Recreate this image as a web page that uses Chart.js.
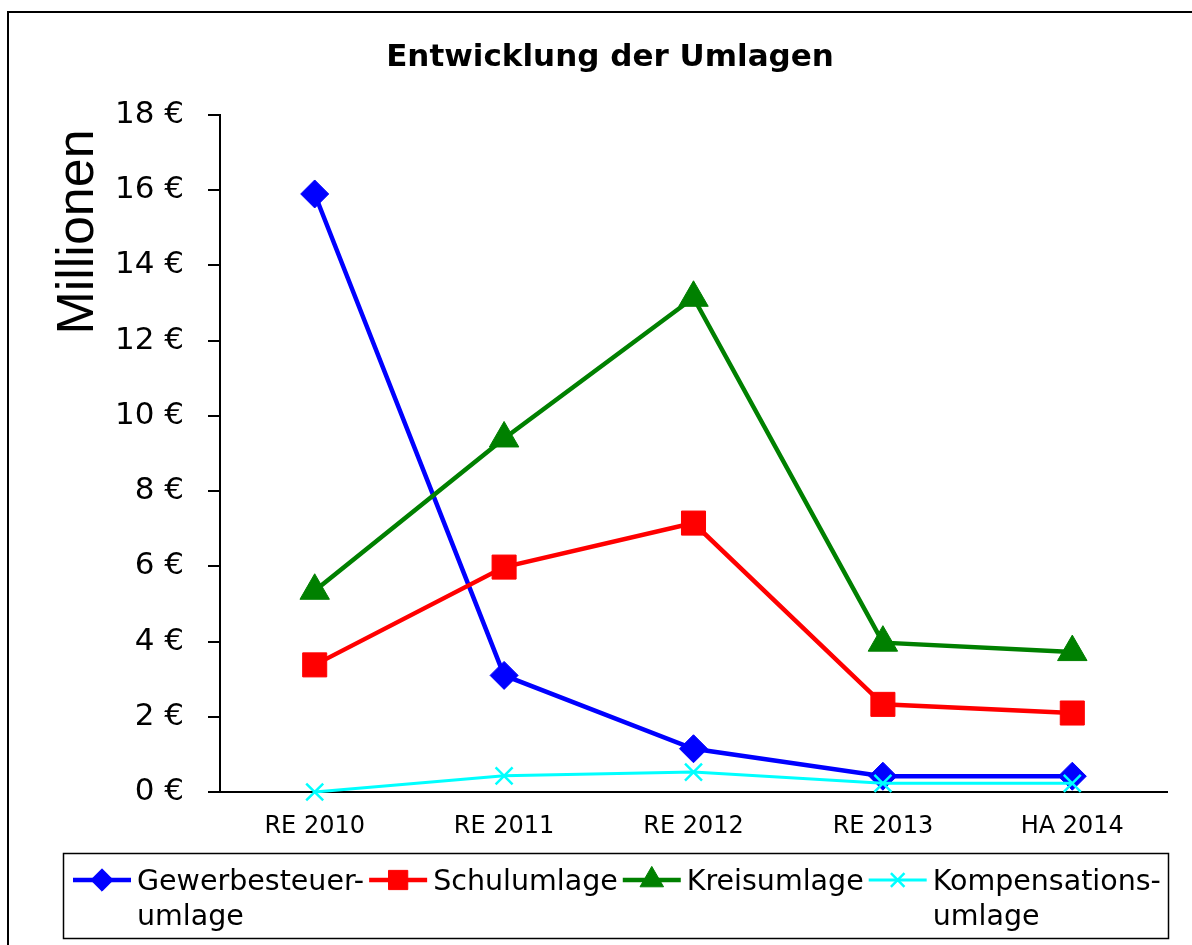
<!DOCTYPE html>
<html lang="de">
<head>
<meta charset="utf-8">
<title>Entwicklung der Umlagen</title>
<script src="https://cdn.jsdelivr.net/npm/chart.js"></script>
<style>
  html, body { margin: 0; padding: 0; background: #fff; }
  canvas { display: block; }
</style>
</head>
<body>
<canvas id="umlagenChart" width="1192" height="945"></canvas>
<script>
// Data (Millionen €)
const years = ['RE 2010', 'RE 2011', 'RE 2012', 'RE 2013', 'HA 2014'];
const gewerbesteuerumlage = [15.9, 3.1, 1.15, 0.42, 0.42];
const schulumlage = [3.38, 5.98, 7.15, 2.33, 2.1];
const kreisumlage = [5.35, 9.4, 13.14, 3.97, 3.72];
const kompensationsumlage = [0, 0.43, 0.53, 0.23, 0.23];
const legendLabels = [['Gewerbesteuer-', 'umlage'], ['Schulumlage'], ['Kreisumlage'], ['Kompensations-', 'umlage']];

Chart.defaults.color = '#000';
Chart.defaults.font.family = '"DejaVu Sans", sans-serif';

// small marker painter for the legend
function drawMarker(ctx, style, x, y, r) {
    ctx.beginPath();
    if (style === 'rectRot') {
        ctx.moveTo(x - r, y); ctx.lineTo(x, y - r); ctx.lineTo(x + r, y); ctx.lineTo(x, y + r);
        ctx.closePath(); ctx.fill(); ctx.stroke();
    } else if (style === 'rect') {
        const s = Math.SQRT1_2 * r;
        ctx.rect(x - s, y - s, 2 * s, 2 * s); ctx.fill(); ctx.stroke();
    } else if (style === 'triangle') {
        ctx.moveTo(x, y - r);
        ctx.lineTo(x + r * Math.sin(Math.PI * 2 / 3), y - r * Math.cos(Math.PI * 2 / 3));
        ctx.lineTo(x - r * Math.sin(Math.PI * 2 / 3), y - r * Math.cos(Math.PI * 2 / 3));
        ctx.closePath(); ctx.fill(); ctx.stroke();
    } else {
        const s = Math.SQRT1_2 * r;
        ctx.moveTo(x - s, y - s); ctx.lineTo(x + s, y + s);
        ctx.moveTo(x + s, y - s); ctx.lineTo(x - s, y + s);
        ctx.stroke();
    }
}

const decorations = {
    id: 'decorations',
    beforeDraw(chart) {
        const ctx = chart.ctx;
        ctx.save();
        ctx.fillStyle = '#fff';
        ctx.fillRect(0, 0, chart.width, chart.height);
        ctx.restore();
    },
    afterDraw(chart) {
        const ctx = chart.ctx;
        ctx.save();
        // outer frame
        ctx.strokeStyle = '#000';
        ctx.lineWidth = 2;
        ctx.strokeRect(8, 12, chart.width, chart.height);

        // title
        ctx.fillStyle = '#000';
        ctx.font = 'bold 31px "DejaVu Sans"';
        ctx.textAlign = 'center';
        ctx.textBaseline = 'alphabetic';
        ctx.fillText('Entwicklung der Umlagen', 610, 66);

        // y axis title
        ctx.save();
        ctx.translate(93, 232);
        ctx.rotate(-Math.PI / 2);
        ctx.font = '52px "Liberation Sans"';
        ctx.fillText('Millionen', 0, 0);
        ctx.restore();

        // legend
        ctx.lineWidth = 1.5;
        ctx.strokeStyle = '#000';
        ctx.strokeRect(63.5, 853.5, 1105, 85);
        ctx.font = '28.5px "DejaVu Sans"';
        ctx.textAlign = 'left';
        let x = 73;
        chart.data.datasets.forEach((ds, i) => {
            const y = 880;
            ctx.strokeStyle = ds.borderColor;
            ctx.fillStyle = ds.borderColor;
            ctx.lineWidth = ds.borderWidth;
            ctx.beginPath();
            ctx.moveTo(x, y);
            ctx.lineTo(x + 58, y);
            ctx.stroke();
            ctx.lineWidth = ds.pointBorderWidth;
            drawMarker(ctx, ds.pointStyle, x + 29, y, ds.pointRadius * 0.8);
            ctx.fillStyle = '#000';
            const lines = legendLabels[i];
            lines.forEach((t, j) => ctx.fillText(t, x + 64, 890 + j * 35));
            x += 64 + ctx.measureText(lines[0]).width + 5;
        });
        ctx.restore();
    }
};

new Chart(document.getElementById('umlagenChart'), {
    type: 'line',
    data: {
        labels: years,
        datasets: [
            {
                label: 'Gewerbesteuerumlage',
                data: gewerbesteuerumlage,
                borderColor: '#0000FF',
                backgroundColor: '#0000FF',
                borderWidth: 4.5,
                pointStyle: 'rectRot',
                pointRadius: 14,
                pointBorderWidth: 1,
                order: 3
            },
            {
                label: 'Schulumlage',
                data: schulumlage,
                borderColor: '#FF0000',
                backgroundColor: '#FF0000',
                borderWidth: 4.5,
                pointStyle: 'rect',
                pointRadius: 17,
                pointBorderWidth: 1,
                order: 2
            },
            {
                label: 'Kreisumlage',
                data: kreisumlage,
                borderColor: '#008000',
                backgroundColor: '#008000',
                borderWidth: 4.5,
                pointStyle: 'triangle',
                pointRadius: 17,
                pointBorderWidth: 1,
                order: 1
            },
            {
                label: 'Kompensationsumlage',
                data: kompensationsumlage,
                borderColor: '#00FFFF',
                backgroundColor: '#00FFFF',
                borderWidth: 3,
                pointStyle: 'crossRot',
                pointRadius: 12,
                pointBorderWidth: 2.5,
                order: 0
            }
        ]
    },
    options: {
        responsive: false,
        animation: false,
        devicePixelRatio: 1,
        clip: false,
        elements: { line: { tension: 0 } },
        layout: { padding: { top: 115, right: 25, left: 0, bottom: 0 } },
        plugins: {
            legend: { display: false },
            title: { display: false },
            tooltip: { enabled: false }
        },
        scales: {
            x: {
                offset: true,
                grid: { display: false },
                border: { display: true, color: '#000', width: 2 },
                ticks: { font: { size: 24 }, padding: 12, maxRotation: 0 },
                afterFit(scale) { scale.height = 153; }
            },
            y: {
                min: 0,
                max: 18,
                grid: { drawOnChartArea: false, drawTicks: true, tickLength: 12, color: '#000', lineWidth: 2 },
                border: { display: true, color: '#000', width: 2 },
                ticks: {
                    stepSize: 2,
                    padding: 24,
                    font: { size: 31 },
                    callback: v => v + ' €'
                },
                afterFit(scale) { scale.width = 220; }
            }
        }
    },
    plugins: [decorations]
});
</script>
</body>
</html>
